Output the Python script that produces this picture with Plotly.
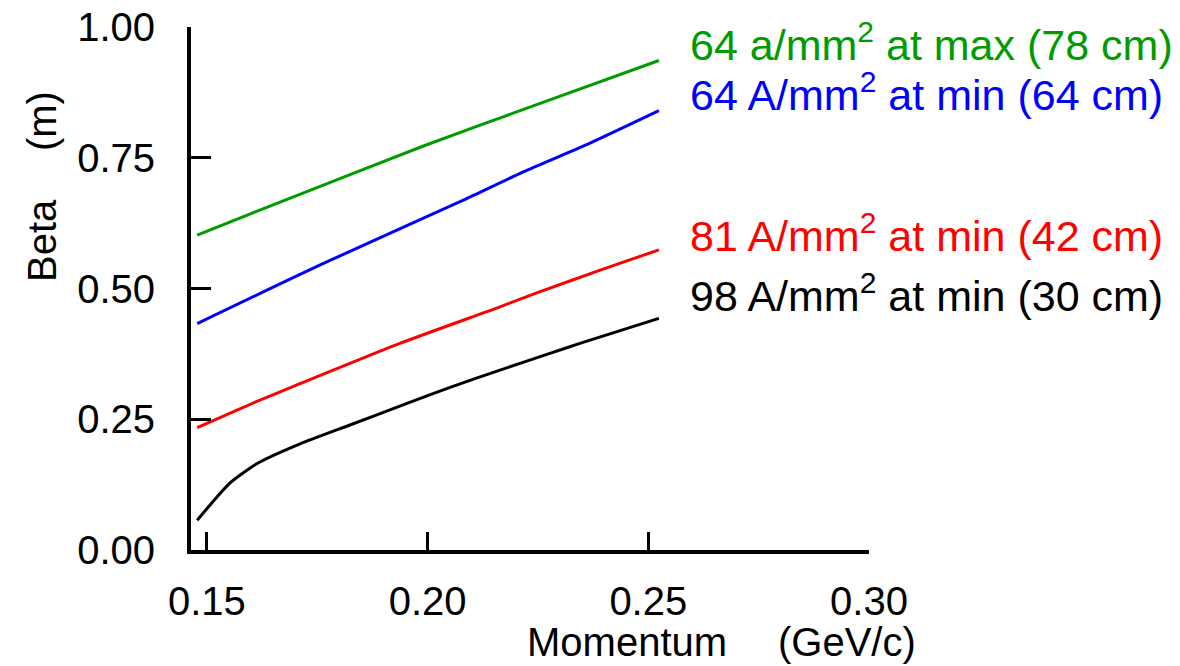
import plotly.graph_objects as go

# ---- data ----
black_x = [0.1478, 0.1552, 0.1613, 0.1711, 0.1824, 0.1937, 0.2051, 0.2164, 0.2277, 0.2345, 0.2524]
black_y = [0.057, 0.128, 0.165, 0.203, 0.239, 0.275, 0.311, 0.344, 0.376, 0.395, 0.443]

red_x = [0.1478, 0.1613, 0.1711, 0.1937, 0.2164, 0.2255, 0.2391, 0.2524]
red_y = [0.234, 0.284, 0.318, 0.395, 0.465, 0.494, 0.535, 0.574]

blue_x = [0.1478, 0.1764, 0.2081, 0.2217, 0.2368, 0.2524]
blue_y = [0.433, 0.548, 0.669, 0.723, 0.778, 0.840]

green_x = [0.1478, 0.1650, 0.1989, 0.2255, 0.2524]
green_y = [0.602, 0.660, 0.772, 0.854, 0.936]

series = [
    (green_x, green_y, "rgb(0,155,0)", "64 a/mm<sup>2</sup> at max (78 cm)", 0.9713),
    (blue_x, blue_y, "rgb(0,0,255)", "64 A/mm<sup>2</sup> at min (64 cm)", 0.8756),
    (red_x, red_y, "rgb(255,0,0)", "81 A/mm<sup>2</sup> at min (42 cm)", 0.6056),
    (black_x, black_y, "rgb(0,0,0)", "98 A/mm<sup>2</sup> at min (30 cm)", 0.4916),
]

x_ticks = [0.15, 0.20, 0.25, 0.30]
y_ticks = [0.00, 0.25, 0.50, 0.75, 1.00]

FONT = "Liberation Sans"

fig = go.Figure()
annotations = []
for xs, ys, color, label, ypos in series:
    fig.add_trace(go.Scatter(x=xs, y=ys, mode="lines",
                             line=dict(color=color, width=3, shape="spline", smoothing=0.6),
                             showlegend=False, hoverinfo="skip"))
    annotations.append(dict(text=label, xref="paper", yref="paper", x=0.733, y=ypos,
                            xanchor="left", yanchor="middle", showarrow=False,
                            font=dict(family=FONT, size=43, color=color)))

# axis titles as annotations (positions off-centre in reference)
annotations += [
    dict(text="Beta", xref="paper", yref="paper", x=-0.2198, y=0.5927, textangle=-90,
         xanchor="center", yanchor="middle", showarrow=False,
         font=dict(family=FONT, size=40, color="black")),
    dict(text="(m)", xref="paper", yref="paper", x=-0.2198, y=0.820, textangle=-90,
         xanchor="center", yanchor="middle", showarrow=False,
         font=dict(family=FONT, size=40, color="black")),
    dict(text="Momentum", xref="paper", yref="paper", x=0.643, y=-0.175,
         xanchor="center", yanchor="middle", showarrow=False,
         font=dict(family=FONT, size=40, color="black")),
    dict(text="(GeV/c)", xref="paper", yref="paper", x=0.9676, y=-0.175,
         xanchor="center", yanchor="middle", showarrow=False,
         font=dict(family=FONT, size=40, color="black")),
]

fig.update_layout(
    width=1180, height=666,
    margin=dict(l=191, r=311, t=27, b=116),
    paper_bgcolor="white", plot_bgcolor="white",
    annotations=annotations,
    font=dict(family=FONT, size=40, color="black"),
)
fig.update_xaxes(range=[0.1464, 0.30], tickvals=x_ticks, tickformat=".2f",
                 ticks="inside", ticklen=18, tickwidth=3, tickcolor="black",
                 showline=True, linewidth=4, linecolor="black",
                 showgrid=False, zeroline=False, mirror=False, automargin=False,
                 ticklabelstandoff=13,
                 tickfont=dict(family=FONT, size=40, color="black"))
fig.update_yaxes(range=[0, 1.0], tickvals=y_ticks, tickformat=".2f",
                 ticks="inside", ticklen=20, tickwidth=3, tickcolor="black",
                 showline=True, linewidth=4, linecolor="black",
                 showgrid=False, zeroline=False, mirror=False, automargin=False,
                 ticklabelstandoff=24,
                 tickfont=dict(family=FONT, size=40, color="black"))

fig.write_html("out.html")
